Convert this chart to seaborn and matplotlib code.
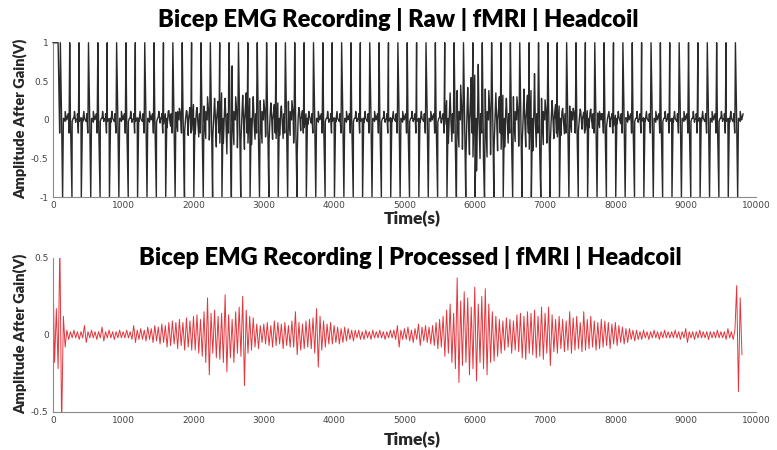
import numpy as np
import pandas as pd
import matplotlib
matplotlib.use("Agg")
import matplotlib.pyplot as plt
import seaborn as sns

sns.set_theme(style="white")
plt.rcParams.update({
    "font.family": ["DejaVu Sans"],
    "font.size": 7,
    "axes.edgecolor": "#8a8a8a",
    "axes.linewidth": 0.8,
    "xtick.color": "#8a8a8a",
    "ytick.color": "#8a8a8a",
    "xtick.labelcolor": "#444444",
    "ytick.labelcolor": "#444444",
})

# sample spacing of the values
sample_step = 25

# processed trace, peaks (units of 0.01 V), t = 0, 25, ... 9800
proc_cV = [
    45, -18, 17, -22, 60, -60, 12, -8,   3, -3, 2, -2, 3, -2, 2, -3,
    2, -2, 6, -5, 2, -2, 3, -2,          2, -3, 2, -2, 5, -4, 2, -2,
    3, -2, 2, -3, 2, -2, 3, -2,
    2, -2, 3, -2, 2, -3, 6, -5,          3, -3, 4, -3, 3, -4, 5, -3,
    4, -5, 6, -4, 5, -6, 7, -5,          6, -8, 8, -7, 9, -6, 8, -9,
    10, -7, 8, -10, 11, -8, 9, -10,
    12, -10, 13, -12, 10, -14, 15, -18,  24, -26, 14, -12, 16, -15, 12, -16,
    14, -18, 26, -24, 13, -15, 10, -18,  15, -12, 18, -14, 25, -33, 16, -12,
    12, -10, 11, -8, 7, -9, 6, -5,
    7, -6, 8, -7, 6, -8, 9, -7,          8, -6, 7, -9, 8, -7, 6, -8,
    9, -8, 15, -13, 8, -10, 7, -9,       9, -8, 10, -9, 11, -12, 17, -21,
    12, -10, 9, -8, 7, -6, 8, -6,
    6, -5, 5, -6, 4, -5, 5, -4,          4, -3, 3, -4, 3, -2, 3, -3,
    2, -3, 3, -2, 2, -3, 3, -2,          2, -2, 3, -2, 2, -3, 2, -2,
    3, -2, 3, -3, 6, -8, 3, -3,
    4, -3, 5, -4, 3, -5, 4, -3,          7, -7, 5, -4, 6, -5, 5, -6,
    6, -7, 8, -9, 10, -8, 12, -14,       16, -12, 20, -18, 14, -22, 37, -31,
    22, -20, 28, -18, 24, -26, 18, -22,
    31, -30, 20, -18, 25, -22, 30, -26,  20, -18, 15, -17, 12, -14, 10, -12,
    9, -10, 11, -8, 10, -12, 9, -10,     13, -11, 14, -15, 12, -16, 15, -12,
    14, -13, 16, -15, 12, -14, 18, -16,
    14, -12, 18, -20, 13, -11, 10, -12,  12, -9, 10, -11, 9, -10, 15, -12,
    11, -10, 12, -9, 8, -11, 15, -10,    10, -9, 12, -8, 9, -10, 8, -9,
    10, -8, 9, -7, 8, -9, 7, -6,
    8, -7, 6, -5, 5, -6, 4, -5,          4, -3, 3, -4, 3, -3, 2, -3,
    3, -2, 2, -3, 2, -2, 3, -2,          2, -3, 2, -2, 3, -2, 2, -2,
    2, -2, 3, -2, 2, -3, 2, -2,
    4, -5, 2, -2, 2, -3, 2, -2,          3, -2, 2, -2, 2, -3, 2, -2,
    2, -2, 3, -2, 2, -2, 2, -3,          4, -2, 2, -3, 3, 32, -37, 24,
    -13,
]

# raw EMG content of the upper panel without the gradient artifacts (0.01 V)
raw_cV = [
    100, 100, 100, 100, 2, -3, 2, -2,    2, -2, 3, -2, 2, -3, 2, -2,
    3, -2, 2, -2, 3, -2, 2, -3,          2, -2, 3, -2, 2, -2, 3, -2,
    2, -3, 2, -2, 3, -2, 2, -2,
    2, -2, 3, -2, 2, -3, 2, -2,          3, -2, 2, -2, 3, -2, 2, -3,
    3, -3, 4, -3, 4, -4, 5, -5,          8, -10, 12, -8, 14, -12, 10, -15,
    15, -12, 18, -14, 12, -20, 16, -14,
    20, -18, 16, -22, 25, -20, 18, -24,  30, -26, 40, -22, 28, -35, 24, -30,
    35, -30, 28, -44, 45, -28, 70, -32,  30, -36, 40, -28, 32, -38, 35, -30,
    28, -32, 30, -25, 33, -28, 25, -30,
    26, -22, 30, -28, 22, -25, 20, -24,  22, -20, 18, -24, 20, -18, 24, -20,
    25, -30, 18, -46, 16, -14, 12, -10,  8, -6, 5, -4, 3, -3, 2, -3,
    2, -2, 3, -2, 2, -3, 2, -2,
    3, -2, 2, -2, 3, -2, 2, -3,          2, -2, 3, -2, 2, -2, 3, -2,
    2, -3, 2, -2, 3, -2, 2, -2,          2, -2, 3, -2, 2, -3, 2, -2,
    3, -2, 2, -2, 3, -2, 2, -3,
    2, -2, 3, -2, 2, -2, 3, -2,          2, -3, 2, -2, 3, -2, 2, -2,
    3, -3, 4, -3, 3, -4, 5, -6,          25, -30, 35, -28, 30, -40, 38, -35,
    45, -38, 40, -50, 42, -45, 55, -48,
    58, -66, 72, -50, 45, -55, 40, -48,  38, -45, 42, -36, 35, -40, 30, -38,
    32, -35, 28, -30, 35, -32, 30, -28,  30, -34, 36, -30, 40, -35, 32, -38,
    38, -40, 60, -35, 30, -45, 28, -32,
    26, -30, 22, -28, 25, -24, 20, -22,  18, -20, 15, -18, 16, -14, 18, -16,
    15, -16, 12, -14, 14, -12, 10, -13,  12, -10, 14, -11, 10, -12, 9, -10,
    8, -9, 10, -8, 7, -9, 6, -8,
    6, -5, 4, -5, 3, -4, 3, -3,          2, -2, 3, -2, 2, -3, 2, -2,
    3, -2, 2, -2, 3, -2, 2, -3,          2, -2, 3, -2, 2, -2, 3, -2,
    2, -3, 2, -2, 3, -2, 2, -2,
    2, -2, 3, -2, 2, -3, 2, -2,          3, -2, 2, -2, 3, -2, 2, -3,
    2, -2, 3, -2, 2, -2, 3, -2,          2, -3, 2, -2, 3, -2, 2, -2,
    2,
]

# gradient artifact onsets (samples) and the shape of one artifact (V)
artifact_t = [
    107, 240, 373, 507, 640, 773, 907, 1040, 1173, 1307, 1440, 1573, 1707,
    1840, 1973, 2107, 2240, 2373, 2507, 2640, 2773, 2907, 3040, 3173, 3307,
    3440, 3573, 3707, 3840, 3973, 4107, 4240, 4373, 4507, 4640, 4773, 4907,
    5040, 5173, 5307, 5440, 5573, 5707, 5840, 5973, 6107, 6240, 6373, 6507,
    6640, 6773, 6907, 7040, 7173, 7307, 7440, 7573, 7707, 7840, 7973, 8107,
    8240, 8373, 8507, 8640, 8773, 8907, 9040, 9173, 9307, 9440, 9573, 9707,
]
artifact_dt = [-10, 0, 32, 48, 68, 88, 110]
artifact_v = [-0.17, 1.0, -1.0, 0.02, 0.11, 0.0, 0.08]

x_ticks = [0, 1000, 2000, 3000, 4000, 5000, 6000, 7000, 8000, 9000, 10000]
raw_yticks = [-1, -0.5, 0, 0.5, 1]
raw_ylabels = ["-1", "-0.5", "0", "0.5", "1"]
proc_yticks = [-0.5, 0, 0.5]
proc_ylabels = ["-0.5", "0", "0.5"]

titles = ["Bicep EMG Recording | Raw | fMRI | Headcoil",
          "Bicep EMG Recording | Processed | fMRI | Headcoil"]

# tables for seaborn
proc_df = pd.DataFrame({"t": np.arange(len(proc_cV)) * sample_step,
                        "v": np.array(proc_cV) / 100.0})
raw_parts = [pd.DataFrame({"t": np.arange(len(raw_cV)) * sample_step,
                           "v": np.array(raw_cV) / 100.0})]
for ts in artifact_t:
    raw_parts.append(pd.DataFrame({"t": [ts + d for d in artifact_dt], "v": artifact_v}))
raw_df = pd.concat(raw_parts).sort_values("t", kind="stable").reset_index(drop=True)

fig = plt.figure(figsize=(7.77, 4.5), dpi=100)
ax_raw = fig.add_axes([0.068, 0.562, 0.905, 0.343])
ax_proc = fig.add_axes([0.068, 0.085, 0.905, 0.342])

sns.lineplot(data=raw_df, x="t", y="v", ax=ax_raw, color="#2a2a2a", linewidth=1.0,
             estimator=None, sort=False, clip_on=False)
sns.lineplot(data=proc_df, x="t", y="v", ax=ax_proc, color="#e2363c", linewidth=0.7,
             estimator=None, sort=False)

title_font = dict(family=["Lato", "DejaVu Sans"], weight="heavy")
for ax, yt, yl, ylim in [(ax_raw, raw_yticks, raw_ylabels, (-1, 1)),
                         (ax_proc, proc_yticks, proc_ylabels, (-0.5, 0.5))]:
    ax.set_xlim(0, 10000)
    ax.set_ylim(*ylim)
    ax.set_xticks(x_ticks)
    ax.set_xticklabels([str(v) for v in x_ticks])
    ax.set_yticks(yt)
    ax.set_yticklabels(yl)
    ax.set_xlabel("")
    ax.set_ylabel("")
    ax.tick_params(direction="in", length=4, width=0.8, labelsize=6.5, pad=3)
    sns.despine(ax=ax, top=True, right=True)

fig.text(0.512, 0.956, titles[0], ha="center", va="center", fontsize=17, color="black", **title_font)
fig.text(0.528, 0.428, titles[1], ha="center", va="center", fontsize=17, color="black", **title_font)
fig.text(0.530, 0.514, "Time(s)", ha="center", va="center", fontsize=12.5, **title_font)
fig.text(0.530, 0.022, "Time(s)", ha="center", va="center", fontsize=12.5, **title_font)
fig.text(0.026, 0.735, "Amplitude After Gain(V)", ha="center", va="center", rotation=90,
         fontsize=10.5, **title_font)
fig.text(0.026, 0.257, "Amplitude After Gain(V)", ha="center", va="center", rotation=90,
         fontsize=10.5, **title_font)

fig.savefig("out.png", dpi=100)
